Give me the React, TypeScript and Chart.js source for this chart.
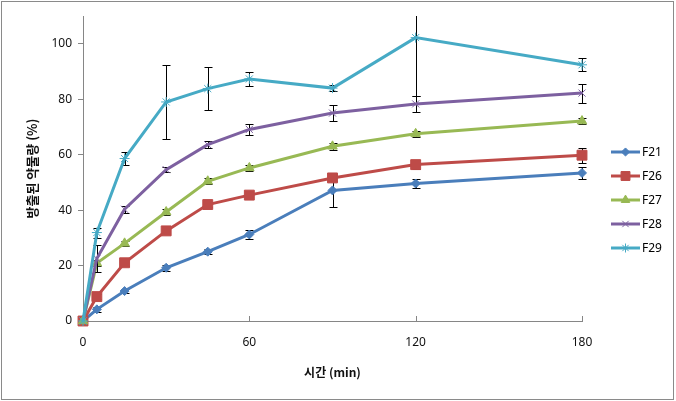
import React, { useEffect, useRef } from 'react';
import { Chart, registerables } from 'chart.js';
import { drawPoint } from 'chart.js/helpers';

Chart.register(...registerables);

const times = [0, 5, 15, 30, 45, 60, 90, 120, 180];
const seriesNames = ['F21', 'F26', 'F27', 'F28', 'F29'];
const f21 = [0, 4.2, 10.8, 19.2, 25.0, 31.2, 47.1, 49.6, 53.4];
const f21Err = [0, 0.8, 0.8, 1.0, 1.0, 1.7, 6.0, 1.7, 2.3];
const f26 = [0, 8.8, 21.0, 32.5, 42.0, 45.4, 51.6, 56.4, 59.8];
const f26Err = [0, 1.0, 1.0, 1.0, 1.0, 1.0, 1.2, 1.5, 2.7];
const f27 = [0, 20.9, 28.0, 39.3, 50.4, 55.2, 63.0, 67.5, 72.1];
const f27Err = [0, 1.0, 1.0, 1.0, 1.0, 1.0, 1.2, 1.2, 1.0];
const f28 = [0, 22.5, 40.3, 54.6, 63.6, 69.1, 75.0, 78.3, 82.2];
const f28Err = [0, 4.9, 1.2, 1.0, 1.3, 2.0, 2.8, 2.9, 3.4];
const f29 = [0, 31.9, 58.6, 79.0, 83.8, 87.3, 84.0, 102.2, 92.4];
const f29Err = [0, 1.8, 2.2, 13.4, 7.7, 2.4, 1.0, 21.0, 2.4];
const xTicks = [0, 60, 120, 180];
const yTicks = [0, 20, 40, 60, 80, 100];

const values = [f21, f26, f27, f28, f29];
const errors = [f21Err, f26Err, f27Err, f28Err, f29Err];
const colors = ['#4A7EBB', '#BE4B48', '#98B954', '#7D60A0', '#46AAC5'];
const pointStyles = ['rectRot', 'rect', 'triangle', 'crossRot', 'star'];
const pointRadii = [4.5, 7, 5.5, 5, 5];

const AXIS_COLOR = '#868686';
const TICK_FONT = { family: '"Noto Sans", "DejaVu Sans", sans-serif', size: 12 };
const TITLE_FONT = { family: '"Noto Sans CJK KR", "Noto Sans", sans-serif', size: 12, weight: 'bold' as const };

const errorBarPlugin = {
  id: 'errorBars',
  beforeDatasetDraw(chart: any, args: any) {
    const idx = args.index;
    const errs = errors[idx];
    const vals = values[idx];
    const ys = chart.scales.y;
    const xs = chart.scales.x;
    const { ctx, chartArea } = chart;
    ctx.save();
    ctx.beginPath();
    ctx.rect(chartArea.left - 10, chartArea.top, chartArea.right - chartArea.left + 20, chartArea.bottom - chartArea.top + 10);
    ctx.clip();
    ctx.strokeStyle = '#000';
    ctx.lineWidth = 1;
    times.forEach((t, j) => {
      const e = errs[j];
      if (!e) return;
      const x = Math.round(xs.getPixelForValue(t)) + 0.5;
      const yt = Math.round(ys.getPixelForValue(vals[j] + e)) + 0.5;
      const yb = Math.round(ys.getPixelForValue(vals[j] - e)) + 0.5;
      ctx.beginPath();
      ctx.moveTo(x, yt);
      ctx.lineTo(x, yb);
      ctx.moveTo(x - 4, yt);
      ctx.lineTo(x + 4, yt);
      ctx.moveTo(x - 4, yb);
      ctx.lineTo(x + 4, yb);
      ctx.stroke();
    });
    ctx.restore();
  },
};

const decorPlugin = {
  id: 'decor',
  afterDraw(chart: any) {
    const { ctx, chartArea } = chart;
    const xs = chart.scales.x;
    ctx.save();
    ctx.strokeStyle = AXIS_COLOR;
    ctx.lineWidth = 1;
    xTicks.forEach((t) => {
      if (t === 0) return;
      const x = Math.round(xs.getPixelForValue(t)) + 0.5;
      ctx.beginPath();
      ctx.moveTo(x, chartArea.bottom);
      ctx.lineTo(x, chartArea.bottom - 5);
      ctx.stroke();
    });
    const lx0 = 611;
    const lx1 = 640;
    seriesNames.forEach((name, i) => {
      const y = 152 + 24 * i;
      ctx.strokeStyle = colors[i];
      ctx.lineWidth = 3;
      ctx.beginPath();
      ctx.moveTo(lx0, y);
      ctx.lineTo(lx1, y);
      ctx.stroke();
      ctx.fillStyle = colors[i];
      ctx.strokeStyle = colors[i];
      ctx.lineWidth = 1;
      drawPoint(ctx, { pointStyle: pointStyles[i], radius: pointRadii[i] * 0.9, borderWidth: 1, rotation: 0 } as any, (lx0 + lx1) / 2, y);
      ctx.fillStyle = '#000';
      ctx.font = '12px "Noto Sans", "DejaVu Sans", sans-serif';
      ctx.textBaseline = 'middle';
      ctx.textAlign = 'left';
      ctx.fillText(name, lx1 + 2, y + 1);
    });
    ctx.strokeStyle = '#8a8a8a';
    ctx.lineWidth = 1;
    ctx.strokeRect(1.5, 1.5, 672, 398);
    ctx.restore();
  },
};

export default function App() {
  const canvasRef = useRef<HTMLCanvasElement | null>(null);

  useEffect(() => {
    document.body.style.margin = '0';
    const canvas = canvasRef.current;
    if (!canvas) return;
    const chart = new Chart(canvas, {
      type: 'line',
      data: {
        datasets: seriesNames.map((name, i) => ({
          label: name,
          data: times.map((t, j) => ({ x: t, y: values[i][j] })),
          borderColor: colors[i],
          backgroundColor: colors[i],
          borderWidth: 3,
          pointStyle: pointStyles[i] as any,
          pointRadius: pointRadii[i],
          pointBorderWidth: 1,
          pointBorderColor: colors[i],
          pointBackgroundColor: colors[i],
          tension: 0,
          clip: false as any,
          order: 4 - i,
        })),
      },
      options: {
        responsive: false,
        animation: false,
        devicePixelRatio: 1,
        events: [],
        layout: { padding: { top: 16, right: 94, left: 0, bottom: 0 } },
        plugins: {
          legend: { display: false },
          tooltip: { enabled: false },
        },
        scales: {
          x: {
            type: 'linear',
            min: 0,
            max: 180,
            afterBuildTicks: (s: any) => {
              s.ticks = xTicks.map((v) => ({ value: v }));
            },
            afterFit: (s: any) => {
              s.height = 80;
            },
            grid: { display: false, drawTicks: false },
            border: { display: true, color: AXIS_COLOR, width: 1 },
            ticks: { font: TICK_FONT, color: '#111', padding: 14, maxRotation: 0 },
            title: {
              display: true,
              text: '시간 (min)',
              font: TITLE_FONT,
              color: '#111',
              padding: { top: 0, bottom: 21 },
            },
          },
          y: {
            type: 'linear',
            min: 0,
            max: 110,
            afterBuildTicks: (s: any) => {
              s.ticks = yTicks.map((v) => ({ value: v }));
            },
            afterFit: (s: any) => {
              s.width = 83;
            },
            grid: { display: true, drawOnChartArea: false, drawTicks: true, tickLength: 5, color: AXIS_COLOR },
            border: { display: true, color: AXIS_COLOR, width: 1 },
            ticks: { font: TICK_FONT, color: '#111', padding: 6 },
            title: {
              display: true,
              text: '방출된 약물량 (%)',
              font: { ...TITLE_FONT, size: 13 },
              color: '#111',
              padding: { top: 24, bottom: 0 },
            },
          },
        },
      },
      plugins: [errorBarPlugin, decorPlugin],
    });
    return () => chart.destroy();
  }, []);

  return (
    <div style={{ width: 676, height: 401 }}>
      <canvas ref={canvasRef} width={676} height={401} style={{ display: 'block' }} />
    </div>
  );
}
